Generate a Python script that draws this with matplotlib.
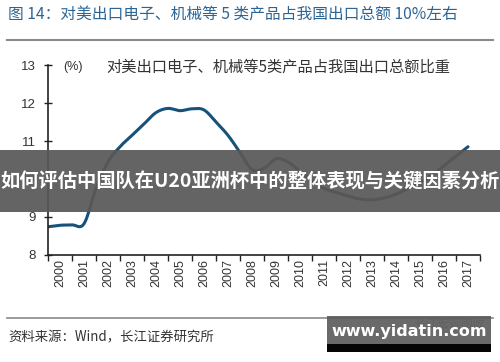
import matplotlib
matplotlib.use('Agg')
import matplotlib.pyplot as plt
import numpy as np
from matplotlib.patches import Rectangle

plt.rcParams['font.family'] = ['Noto Sans CJK SC', 'DejaVu Sans']

# semiannual share (%), from 2000H1 to 2017H2 (x in year-slot units)
x_pos = [0.0, 0.5, 1.0, 1.5, 2.0, 2.5, 3.0, 3.5, 4.0, 4.5, 5.0, 5.5, 6.0, 6.5,
         7.0, 7.5, 8.0, 8.5, 9.0, 9.5, 10.0, 10.5, 11.0, 11.5, 12.0, 12.5,
         13.0, 13.5, 14.0, 14.5, 15.0, 15.5, 16.0, 16.5, 17.0, 17.5]
share = [8.74, 8.78, 8.79, 8.82, 9.75, 10.45, 10.85, 11.15, 11.45, 11.75, 11.86, 11.80,
         11.85, 11.82, 11.50, 11.15, 10.70, 10.25, 10.28, 10.53, 10.45, 10.20, 9.95, 9.75,
         9.65, 9.55, 9.47, 9.45, 9.50, 9.60, 9.75, 9.90, 10.10, 10.35, 10.60, 10.85]
years = [str(y) for y in range(2000, 2018)]
y_ticks = [8, 9, 10, 11, 12, 13]

TITLE = '图 14：对美出口电子、机械等 5 类产品占我国出口总额 10%左右'
SERIES = '对美出口电子、机械等5类产品占我国出口总额比重'
SOURCE = '资料来源：Wind，长江证券研究所'
BANNER = '如何评估中国队在U20亚洲杯中的整体表现与关键因素分析'


def catmull_rom(xs, ys, n=12):
    """Smooth line through the points, like Excel's smoothed line."""
    xs = np.asarray(xs, float)
    ys = np.asarray(ys, float)
    px = np.concatenate([[2 * xs[0] - xs[1]], xs, [2 * xs[-1] - xs[-2]]])
    py = np.concatenate([[2 * ys[0] - ys[1]], ys, [2 * ys[-1] - ys[-2]]])
    t = np.linspace(0, 1, n, endpoint=False)
    out_x, out_y = [], []
    for i in range(1, len(px) - 2):
        for p, o in ((px, out_x), (py, out_y)):
            p0, p1, p2, p3 = p[i - 1], p[i], p[i + 1], p[i + 2]
            o.extend(0.5 * (2 * p1 + (-p0 + p2) * t + (2 * p0 - 5 * p1 + 4 * p2 - p3) * t ** 2
                            + (-p0 + 3 * p1 - 3 * p2 + p3) * t ** 3))
    out_x.append(xs[-1])
    out_y.append(ys[-1])
    return np.array(out_x), np.array(out_y)


fig = plt.figure(figsize=(5.0, 3.62), dpi=100)
fig.patch.set_facecolor('white')

ax = fig.add_axes([0.096, 0.296, 0.864, 0.524])
sx, sy = catmull_rom(x_pos, share)
ax.plot(sx, sy, color='#17527A', lw=2.2, solid_capstyle='round')

ax.set_xlim(0, 18)
ax.set_ylim(8, 13)
ax.set_yticks(y_ticks)
ax.set_xticks(np.arange(0, 19))
ax.set_xticklabels([])
ax.set_xticks(np.arange(0.5, 18), minor=True)
ax.set_xticklabels(years, minor=True, rotation=90, fontsize=9, color='#333333',
                   family=['Liberation Sans', 'DejaVu Sans'])
ax.tick_params(axis='x', which='minor', length=0, pad=3)
ax.tick_params(axis='x', which='major', direction='out', length=4, width=1, color='#222222')
ax.tick_params(axis='y', direction='inout', length=6, width=1, color='#222222',
               labelsize=9.5, labelcolor='#333333', pad=6)
for lab in ax.get_yticklabels():
    lab.set_family(['Liberation Sans', 'DejaVu Sans'])
for s in ['top', 'right']:
    ax.spines[s].set_visible(False)
for s in ['left', 'bottom']:
    ax.spines[s].set_color('#222222')
    ax.spines[s].set_linewidth(1.2)
ax.set_facecolor('none')

fig.text(0.127, 0.815, '(%)', fontsize=9, color='#333333', va='center',
         family=['Liberation Sans', 'DejaVu Sans'])
fig.text(0.213, 0.815, SERIES, fontsize=11, color='#333333', va='center')

# title and rules
fig.text(0.016, 0.958, TITLE, fontsize=11.3, color='#2C6593', va='center')
fig.add_artist(plt.Line2D([0.014, 0.986], [0.890, 0.890], color='#8A8A8A', lw=1.5))
fig.add_artist(plt.Line2D([0.014, 0.986], [0.122, 0.122], color='#8A8A8A', lw=1.2))
fig.text(0.016, 0.069, SOURCE, fontsize=9.6, color='#333333', va='center')

# overlay banner
fig.add_artist(Rectangle((0, 0.414), 1, 0.171, transform=fig.transFigure,
                         facecolor='#585858', alpha=0.93, edgecolor='none', zorder=5))
fig.text(0.5, 0.497, BANNER, fontsize=13.9, color='white', fontweight='bold',
         ha='center', va='center', zorder=6)

# watermark box
fig.text(0.90, 0.103, '长江宏观固收', fontsize=8.5, color='#999999', ha='center', va='center', zorder=4)
fig.add_artist(Rectangle((0.654, 0.047), 0.328, 0.081, transform=fig.transFigure,
                         facecolor='#5a5a5a', alpha=0.9, edgecolor='none', zorder=5))
fig.add_artist(Rectangle((0.654, 0.028), 0.328, 0.021, transform=fig.transFigure,
                         facecolor='#050505', edgecolor='none', zorder=5))
fig.text(0.818, 0.085, 'www.yidatin.com', fontsize=11.5, color='white', fontweight='bold',
         ha='center', va='center', zorder=6, family=['DejaVu Sans'])

fig.savefig('out.png', dpi=100)
